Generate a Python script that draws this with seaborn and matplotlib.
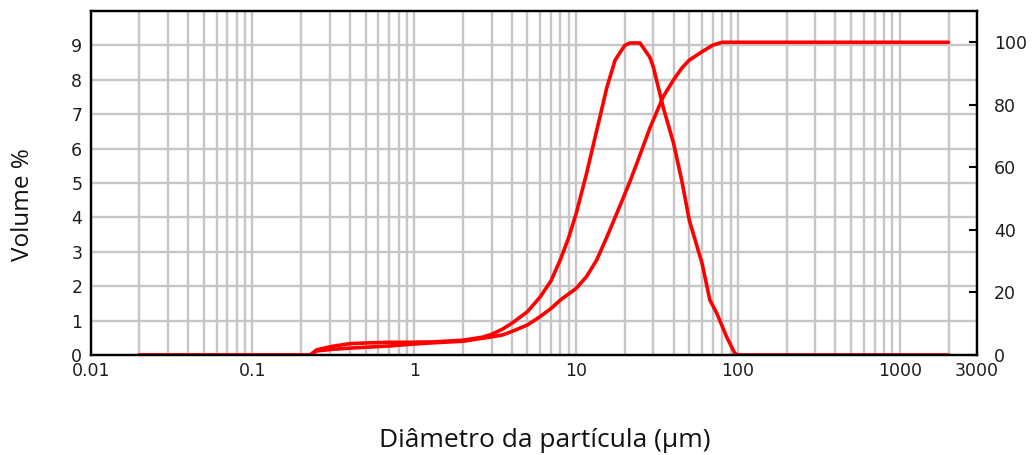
import numpy as np
import pandas as pd
import matplotlib
matplotlib.use("Agg")
import matplotlib.pyplot as plt
import seaborn as sns
from matplotlib.ticker import FixedLocator, FixedFormatter, NullFormatter

# particle size (um) and volume % per class (left axis)
size_freq = [0.02, 0.1, 0.2, 0.227, 0.249, 0.31, 0.40, 0.51, 0.71, 0.93, 1.31, 2.0,
             2.65, 3.0, 3.5, 4.0, 5.0, 6.0, 7.0, 8.0, 9.0, 10.0, 11.6, 13.4, 15.5,
             17.4, 18.7, 20.0, 21.5, 24.8, 28.5, 30.0, 34.5, 40.0, 44.9, 50.0, 60.0,
             67.0, 74.0, 85.0, 95.5, 100, 1000, 2000]
vol_pct = [0, 0, 0, 0.0, 0.15, 0.25, 0.33, 0.35, 0.37, 0.37, 0.38, 0.43,
           0.52, 0.60, 0.75, 0.92, 1.26, 1.69, 2.16, 2.78, 3.42, 4.11, 5.28, 6.53, 7.79,
           8.57, 8.80, 9.0, 9.07, 9.07, 8.66, 8.37, 7.2, 6.15, 5.08, 3.92, 2.66,
           1.6, 1.21, 0.53, 0.05, 0, 0, 0]

# cumulative volume % (right axis)
size_cum = [0.02, 0.1, 0.2, 0.227, 0.249, 0.31, 0.40, 0.51, 0.71, 0.93, 1.31, 2.0,
            3.0, 3.5, 4.0, 5.0, 6.0, 7.0, 8.0, 10.0, 11.6, 13.4, 15.5, 17.9, 21.5,
            24.8, 28.5, 34.5, 40.0, 44.9, 50.0, 60.0, 70.0, 80.0, 1000, 2000]
cum_pct = [0, 0, 0, 0, 1.3, 1.8, 2.2, 2.5, 2.9, 3.4, 3.9, 4.4,
           5.8, 6.4, 7.5, 9.6, 12.3, 14.9, 17.6, 21.3, 25.1, 30.4, 37.8, 45.5, 55.5,
           64.0, 72.5, 82.6, 88.0, 91.7, 94.3, 97.0, 99.1, 100, 100, 100]

x_ticks = [0.01, 0.1, 1, 10, 100, 1000, 3000]
x_labels = ["0.01", "0.1", "1", "10", "100", "1000", "3000"]
left_ticks = list(range(0, 10))
right_ticks = [0, 20, 40, 60, 80, 100]

sns.set_style("white")
plt.rcParams['font.family'] = ['DejaVu Sans']

df_freq = pd.DataFrame({"size": size_freq, "vol": vol_pct})
df_cum = pd.DataFrame({"size": size_cum, "cum": cum_pct})

fig = plt.figure(figsize=(10.35, 4.55), dpi=100)
ax = fig.add_axes([0.0876, 0.2198, 0.8564, 0.7560])
ax2 = ax.twinx()

red = "#ff0000"
sns.lineplot(data=df_freq, x="size", y="vol", ax=ax, color=red, lw=2.6)
sns.lineplot(data=df_cum, x="size", y="cum", ax=ax2, color=red, lw=2.6)

ax.set_xscale("log")
ax.set_xlim(0.01, 3000)
ax.set_ylim(0, 10)
ax2.set_ylim(0, 110)

# grid: every 1..9 x decade
minor = [m * 10.0 ** e for e in range(-2, 4) for m in range(2, 10)]
minor = [v for v in minor if v < 3000]
ax.xaxis.set_major_locator(FixedLocator(x_ticks))
ax.xaxis.set_major_formatter(FixedFormatter(x_labels))
ax.xaxis.set_minor_locator(FixedLocator(minor))
ax.xaxis.set_minor_formatter(NullFormatter())
ax.set_yticks(left_ticks)
ax2.set_yticks(right_ticks)

gcol = "#c6c6c6"
ax.set_axisbelow(True)
ax.grid(True, which="both", axis="x", color=gcol, lw=1.7)
ax.grid(True, which="major", axis="y", color=gcol, lw=1.7)
ax2.grid(False)

tcol = "#1e1e1e"
ax.tick_params(axis="x", which="both", length=0, pad=5, labelsize=12.5, labelcolor=tcol)
ax.tick_params(axis="y", which="both", length=0, pad=6, labelsize=12.5, labelcolor=tcol)
ax2.tick_params(axis="y", direction="in", length=6, width=1.5, pad=12,
                labelsize=12.5, labelcolor=tcol, color="black")

for a in (ax, ax2):
    for s in a.spines.values():
        s.set_color("black")
        s.set_linewidth(1.6)

ax.set_xlabel("")
ax.set_ylabel("")
ax2.set_ylabel("")

fig.text(544.5 / 1035, 1 - 447 / 455, "Diâmetro da partícula (µm)",
         family=["Open Sans", "DejaVu Sans"], fontsize=19,
         ha="center", va="baseline", color="#111111")
fig.text(23 / 1035, 1 - 205 / 455, "Volume %", family=["Open Sans", "DejaVu Sans"],
         fontsize=17.5, ha="center", va="center", rotation=90, color="#111111")

fig.savefig("out.png", dpi=100)
